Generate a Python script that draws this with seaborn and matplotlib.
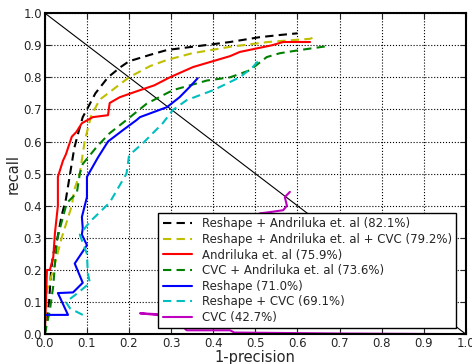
import numpy as np
import pandas as pd
import matplotlib
matplotlib.use('Agg')
import matplotlib.pyplot as plt
import seaborn as sns

# curve data (1-precision, recall)
labels = [
    'Reshape + Andriluka et. al (82.1%)',
    'Reshape + Andriluka et. al + CVC (79.2%)',
    'Andriluka et. al (75.9%)',
    'CVC + Andriluka et. al (73.6%)',
    'Reshape (71.0%)',
    'Reshape + CVC (69.1%)',
    'CVC (42.7%)',
]
colors = ['k', 'y', 'r', 'g', 'b', 'c', 'm']
styles = ['--', '--', '-', '--', '-', '--', '-']

black_x = [0.0, 0.01, 0.015, 0.02, 0.03, 0.04, 0.05, 0.06, 0.07, 0.08, 0.09, 0.1, 0.12,
           0.15, 0.18, 0.2, 0.25, 0.29, 0.35, 0.44, 0.51, 0.56, 0.6]
black_y = [0.0, 0.1, 0.2, 0.25, 0.3, 0.37, 0.42, 0.5, 0.58, 0.63, 0.676, 0.7, 0.75,
           0.8, 0.832, 0.85, 0.87, 0.885, 0.895, 0.91, 0.925, 0.932, 0.937]

yellow_x = [0.0, 0.005, 0.02, 0.04, 0.064, 0.07, 0.083, 0.095, 0.11, 0.13, 0.16, 0.2,
            0.25, 0.29, 0.35, 0.44, 0.53, 0.63, 0.64]
yellow_y = [0.0, 0.137, 0.2, 0.3, 0.4, 0.45, 0.5, 0.604, 0.68, 0.73, 0.76, 0.8,
            0.835, 0.854, 0.875, 0.895, 0.91, 0.92, 0.925]

red_x = [0.0, 0.005, 0.012, 0.02, 0.024, 0.031, 0.031, 0.043, 0.05, 0.064, 0.075, 0.088,
         0.114, 0.15, 0.154, 0.178, 0.226, 0.26, 0.297, 0.352, 0.44, 0.463, 0.54,
         0.566, 0.63]
red_y = [0.0, 0.2, 0.2, 0.24, 0.315, 0.4, 0.49, 0.54, 0.56, 0.615, 0.63, 0.657,
         0.676, 0.682, 0.72, 0.738, 0.76, 0.775, 0.8, 0.832, 0.866, 0.879, 0.9,
         0.91, 0.91]

green_x = [0.0, 0.012, 0.02, 0.025, 0.03, 0.04, 0.052, 0.076, 0.083, 0.09, 0.123,
           0.154, 0.194, 0.242, 0.304, 0.385, 0.44, 0.487, 0.527, 0.558, 0.606, 0.67]
green_y = [0.0, 0.075, 0.15, 0.236, 0.3, 0.35, 0.408, 0.44, 0.5, 0.53, 0.583,
           0.626, 0.667, 0.718, 0.76, 0.79, 0.80, 0.822, 0.863, 0.875, 0.885, 0.897]

blue_x = [0.0, 0.0, 0.055, 0.031, 0.067, 0.09, 0.071, 0.1, 0.088, 0.09, 0.088, 0.1,
          0.1, 0.126, 0.15, 0.185, 0.218, 0.226, 0.29, 0.32, 0.344, 0.363]
blue_y = [0.0, 0.06, 0.06, 0.128, 0.13, 0.16, 0.22, 0.277, 0.31, 0.33, 0.365, 0.427,
          0.49, 0.55, 0.6, 0.635, 0.667, 0.676, 0.707, 0.738, 0.77, 0.797]

cyan_x = [0.09, 0.06, 0.05, 0.08, 0.107, 0.102, 0.1, 0.083, 0.107, 0.154, 0.194,
          0.2, 0.233, 0.28, 0.304, 0.337, 0.4, 0.463, 0.494, 0.51]
cyan_y = [0.06, 0.08, 0.1, 0.13, 0.16, 0.19, 0.25, 0.31, 0.35, 0.41, 0.5,
          0.557, 0.595, 0.657, 0.698, 0.729, 0.76, 0.80, 0.832, 0.855]

magenta_x = [0.582, 0.57, 0.575, 0.566, 0.534, 0.51, 0.45, 0.4, 0.35, 0.3, 0.226,
             0.3, 0.337, 0.44, 0.45, 0.7, 1.0]
magenta_y = [0.443, 0.427, 0.40, 0.386, 0.38, 0.376, 0.3, 0.2, 0.1, 0.06, 0.065,
             0.055, 0.012, 0.012, 0.005, 0.002, 0.0]

curves_x = [black_x, yellow_x, red_x, green_x, blue_x, cyan_x, magenta_x]
curves_y = [black_y, yellow_y, red_y, green_y, blue_y, cyan_y, magenta_y]

diag_x = [0.0, 1.0]
diag_y = [1.0, 0.0]

ticks = [0.0, 0.1, 0.2, 0.3, 0.4, 0.5, 0.6, 0.7, 0.8, 0.9, 1.0]

sns.set_style('whitegrid', {'grid.linestyle': ':', 'grid.color': 'k',
                            'axes.edgecolor': 'k', 'xtick.direction': 'in',
                            'ytick.direction': 'in'})
plt.rcParams['font.family'] = ['DejaVu Sans']

fig = plt.figure(figsize=(4.72, 3.64), dpi=100)
ax = fig.add_axes([0.095, 0.082, 0.892, 0.882])

sns.lineplot(x=diag_x, y=diag_y, color='k', linewidth=0.8, sort=False,
             estimator=None, ax=ax)

for xs, ys, col, ls, lab in zip(curves_x, curves_y, colors, styles, labels):
    df = pd.DataFrame({'x': xs, 'y': ys})
    sns.lineplot(data=df, x='x', y='y', color=col, linestyle=ls, linewidth=1.5,
                 sort=False, estimator=None, label=lab, ax=ax)
    if ls == '--':
        ax.lines[-1].set_dashes((4, 2.5))

ax.set_xlim(0, 1)
ax.set_ylim(0, 1)
ax.set_xticks(ticks)
ax.set_yticks(ticks)
ax.tick_params(labelsize=8.5, length=4, width=0.8, pad=2, top=True, right=True,
               bottom=True, left=True)
ax.grid(True, linestyle=':', color='k', linewidth=0.8)
for s in ax.spines.values():
    s.set_linewidth(1.5)
    s.set_color('k')
ax.set_xlabel('1-precision', fontsize=10.5, labelpad=0)
ax.set_ylabel('recall', fontsize=10.5, labelpad=2)

leg = ax.legend(loc='lower right', fontsize=8.5, fancybox=False, framealpha=1,
                edgecolor='k', handlelength=2.5, borderpad=0.35, labelspacing=0.22,
                borderaxespad=0, bbox_to_anchor=(0.976, 0.019))
leg.get_frame().set_linewidth(1.0)
for h in leg.get_lines():
    if h.get_linestyle() == '--':
        h.set_dashes((4, 2.5))

fig.savefig('out.png', dpi=100)
